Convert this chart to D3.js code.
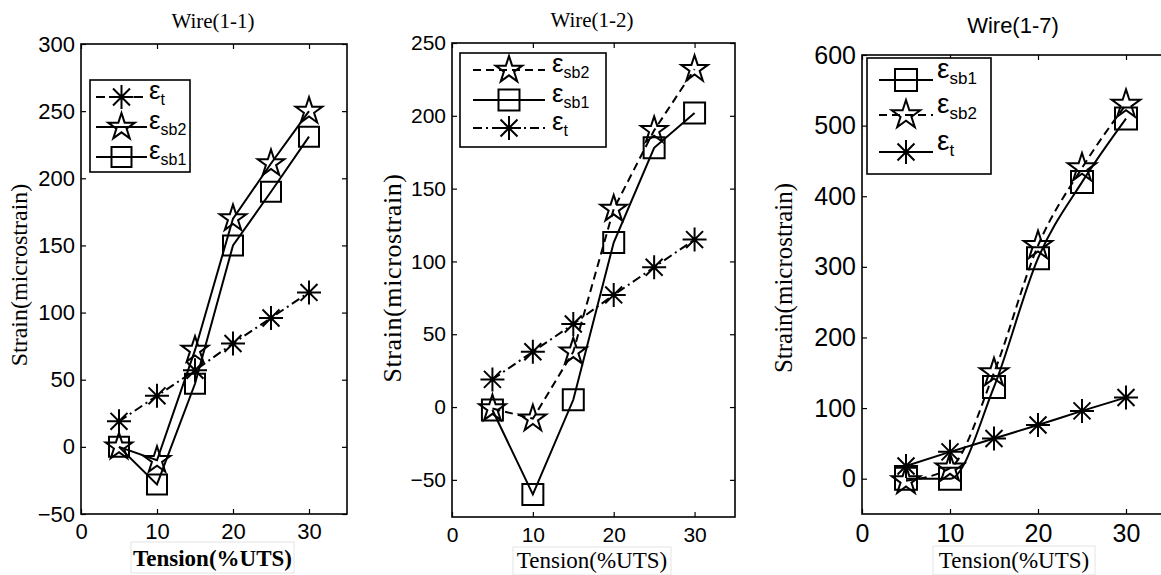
<!DOCTYPE html>
<html>
<head>
<meta charset="utf-8">
<script src="https://cdn.jsdelivr.net/npm/d3@7"></script>
<style>
  html, body { margin: 0; padding: 0; background: #fff; overflow: hidden; }
  svg { display: block; }
</style>
</head>
<body>
<div id="graph-container"></div>
<script>
/*
 * data
 */
const tension = [5, 10, 15, 20, 25, 30]
const xTicks = [0, 10, 20, 30]

// Wire(1-1)
const w11_t = [19, 38, 57, 77, 96, 115]
const w11_sb2 = [0, -10, 72, 170, 211, 250]
const w11_sb1 = [0, -28, 47, 150, 190, 231]
const w11_yTicks = [-50, 0, 50, 100, 150, 200, 250, 300]

// Wire(1-2)
const w12_sb2 = [-1, -8, 38, 136, 190, 232]
const w12_sb1 = [-2, -60, 5, 113, 178, 202]
const w12_t = [19, 38, 57, 77, 96, 115]
const w12_yTicks = [-50, 0, 50, 100, 150, 200, 250]

// Wire(1-7)
const w17_sb1 = [0, 0, 130, 312, 420, 510]
const w17_sb2 = [-3, 15, 150, 330, 440, 530]
const w17_t = [18, 38, 57, 76, 96, 115]
const w17_yTicks = [0, 100, 200, 300, 400, 500, 600]

/*
 * Initialize SVG
 */
const w = 1161
const h = 575
const svg = d3.select('#graph-container')
  .append('svg')
  .attr('width', w)
  .attr('height', h)

const serif = '"Liberation Serif", "Times New Roman", serif'
const sans = '"Liberation Sans", Arial, sans-serif'

const dashes = { solid: null, dash: '8,5', dashdot: '9,4,2,4' }

/*
 * markers
 */
function asteriskPath(r) {
  const d = r * Math.SQRT1_2
  return `M${-r},0L${r},0M0,${-r}L0,${r}M${-d},${-d}L${d},${d}M${-d},${d}L${d},${-d}`
}

function markerPath(kind, size) {
  if (kind == 'star') return d3.symbol(d3.symbolStar, size * size / 0.8908130915292852)()
  if (kind == 'square') return d3.symbol(d3.symbolSquare, size * size)()
  return asteriskPath(size)
}

function drawMarker(g, kind, size, cx, cy) {
  g.append('path')
    .attr('d', markerPath(kind, size))
    .attr('transform', `translate(${cx},${cy})`)
    .attr('fill', 'none')
    .attr('stroke', '#000')
    .attr('stroke-width', 2)
}

function legendLabel(g, x, y, sub, bigSize, subSize) {
  const t = g.append('text')
    .attr('x', x)
    .attr('y', y)
    .attr('font-family', sans)
  t.append('tspan').attr('font-size', bigSize).text('ε')
  t.append('tspan').attr('font-size', subSize).attr('dy', 6).text(sub)
}

/*
 * one panel
 */
function drawPanel(p) {
  const g = svg.append('g')

  const x = d3.scaleLinear().domain([0, 35]).range([p.left, p.right])
  const y = d3.scaleLinear().domain(p.yDomain).range([p.bottom, p.top])

  // frame
  g.append('rect')
    .attr('x', p.left).attr('y', p.top)
    .attr('width', p.right - p.left).attr('height', p.bottom - p.top)
    .attr('fill', 'none').attr('stroke', '#000').attr('stroke-width', 1.6)

  const bottomAxis = g.append('g')
    .attr('transform', `translate(0,${p.bottom})`)
    .call(d3.axisBottom(x).tickValues(xTicks).tickSizeInner(-5).tickSizeOuter(0).tickPadding(p.xPad))
  const leftAxis = g.append('g')
    .attr('transform', `translate(${p.left},0)`)
    .call(d3.axisLeft(y).tickValues(p.yTicks).tickSizeInner(-5).tickSizeOuter(0).tickPadding(6))
  g.append('g')
    .attr('transform', `translate(0,${p.top})`)
    .call(d3.axisTop(x).tickValues(xTicks).tickSizeInner(-5).tickSizeOuter(0).tickFormat(''))
  g.append('g')
    .attr('transform', `translate(${p.right},0)`)
    .call(d3.axisRight(y).tickValues(p.yTicks).tickSizeInner(-5).tickSizeOuter(0).tickFormat(''))

  g.selectAll('.domain').remove()
  g.selectAll('.tick line').attr('stroke', '#000').attr('stroke-width', 1.2)
  bottomAxis.selectAll('text').attr('font-family', sans).attr('font-size', p.tickSize).attr('fill', '#000')
  leftAxis.selectAll('text').attr('font-family', sans).attr('font-size', p.tickSize).attr('fill', '#000')

  // series
  p.series.forEach(s => {
    const pts = tension.map((t, i) => [t, s.values[i]])
    g.append('path')
      .datum(pts)
      .attr('d', d3.line().x(d => x(d[0])).y(d => y(d[1])).curve(p.curve))
      .attr('fill', 'none')
      .attr('stroke', '#000')
      .attr('stroke-width', 2)
      .attr('stroke-dasharray', dashes[s.dash])
    pts.forEach(d => drawMarker(g, s.marker, p.markerSize[s.marker], x(d[0]), y(d[1])))
  })

  // legend
  const L = p.legend
  g.append('rect')
    .attr('x', L.x0).attr('y', L.y0)
    .attr('width', L.x1 - L.x0).attr('height', L.y1 - L.y0)
    .attr('fill', '#fff').attr('stroke', '#000').attr('stroke-width', 1.6)
  p.series.forEach((s, i) => {
    const ry = L.rows[i]
    g.append('line')
      .attr('x1', L.lineX0).attr('x2', L.lineX1)
      .attr('y1', ry).attr('y2', ry)
      .attr('stroke', '#000').attr('stroke-width', 2)
      .attr('stroke-dasharray', dashes[s.dash])
    drawMarker(g, s.marker, p.markerSize[s.marker], (L.lineX0 + L.lineX1) / 2, ry)
    legendLabel(g, L.textX, ry + L.textDy, s.sub, L.big, L.small)
  })

  // title
  g.append('text')
    .attr('x', p.titleX).attr('y', p.titleY)
    .attr('text-anchor', 'middle')
    .attr('font-family', p.titleFont)
    .attr('font-size', p.titleSize)
    .text(p.title)

  // y label
  g.append('text')
    .attr('transform', `translate(${p.yLabelX},${p.yLabelY}) rotate(-90)`)
    .attr('text-anchor', 'middle')
    .attr('font-family', serif)
    .attr('font-size', p.yLabelSize)
    .attr('letter-spacing', p.yLabelSpacing)
    .text('Strain(microstrain)')

  // x label in its faint box
  const B = p.xBox
  g.append('rect')
    .attr('x', B.x0).attr('y', B.y0)
    .attr('width', B.x1 - B.x0).attr('height', B.y1 - B.y0)
    .attr('fill', '#fff').attr('stroke', '#e4e4e4').attr('stroke-width', 1)
  g.append('text')
    .attr('x', (B.x0 + B.x1) / 2).attr('y', B.y1 - 7)
    .attr('text-anchor', 'middle')
    .attr('font-family', serif)
    .attr('font-weight', p.xLabelWeight)
    .attr('font-size', p.xLabelSize)
    .text('Tension(%UTS)')
}

/*
 * panels
 */
drawPanel({
  left: 81, right: 347, top: 44, bottom: 514,
  yDomain: [-50, 300], yTicks: w11_yTicks,
  tickSize: 22, xPad: 9,
  curve: d3.curveLinear,
  markerSize: { star: 14, square: 20, asterisk: 12 },
  series: [
    { sub: 't', values: w11_t, marker: 'asterisk', dash: 'dashdot' },
    { sub: 'sb2', values: w11_sb2, marker: 'star', dash: 'solid' },
    { sub: 'sb1', values: w11_sb1, marker: 'square', dash: 'solid' }
  ],
  legend: { x0: 90, x1: 190, y0: 80, y1: 172, rows: [97, 127, 157],
    lineX0: 96, lineX1: 147, textX: 149, textDy: 2, big: 26, small: 16 },
  title: 'Wire(1-1)', titleX: 213, titleY: 28, titleFont: serif, titleSize: 21,
  yLabelX: 27, yLabelY: 275, yLabelSize: 24, yLabelSpacing: 0,
  xBox: { x0: 131, x1: 294, y0: 542, y1: 573 }, xLabelWeight: 'bold', xLabelSize: 23
})

drawPanel({
  left: 452, right: 735, top: 43, bottom: 517,
  yDomain: [-75.5, 250], yTicks: w12_yTicks,
  tickSize: 21, xPad: 10,
  curve: d3.curveLinear,
  markerSize: { star: 14, square: 21, asterisk: 12 },
  series: [
    { sub: 'sb2', values: w12_sb2, marker: 'star', dash: 'dash' },
    { sub: 'sb1', values: w12_sb1, marker: 'square', dash: 'solid' },
    { sub: 't', values: w12_t, marker: 'asterisk', dash: 'dashdot' }
  ],
  legend: { x0: 460, x1: 606, y0: 53, y1: 147, rows: [70, 100, 128],
    lineX0: 473, lineX1: 545, textX: 552, textDy: 2, big: 26, small: 16 },
  title: 'Wire(1-2)', titleX: 592, titleY: 27, titleFont: serif, titleSize: 21,
  yLabelX: 401, yLabelY: 278, yLabelSize: 26, yLabelSpacing: 0.6,
  xBox: { x0: 513, x1: 671, y0: 547, y1: 575 }, xLabelWeight: 'normal', xLabelSize: 23
})

drawPanel({
  left: 862, right: 1170, top: 55, bottom: 514,
  yDomain: [-50, 600], yTicks: w17_yTicks,
  tickSize: 25, xPad: 10,
  curve: d3.curveMonotoneX,
  markerSize: { star: 15, square: 22, asterisk: 12 },
  series: [
    { sub: 'sb1', values: w17_sb1, marker: 'square', dash: 'solid' },
    { sub: 'sb2', values: w17_sb2, marker: 'star', dash: 'dash' },
    { sub: 't', values: w17_t, marker: 'asterisk', dash: 'solid' }
  ],
  legend: { x0: 867, x1: 991, y0: 58, y1: 174, rows: [80, 115, 152],
    lineX0: 879, lineX1: 933, textX: 937, textDy: -2, big: 28, small: 17 },
  title: 'Wire(1-7)', titleX: 1013, titleY: 33, titleFont: sans, titleSize: 22,
  yLabelX: 792, yLabelY: 278, yLabelSize: 25, yLabelSpacing: 0,
  xBox: { x0: 933, x1: 1095, y0: 546, y1: 575 }, xLabelWeight: 'normal', xLabelSize: 23
})
</script>
</body>
</html>
